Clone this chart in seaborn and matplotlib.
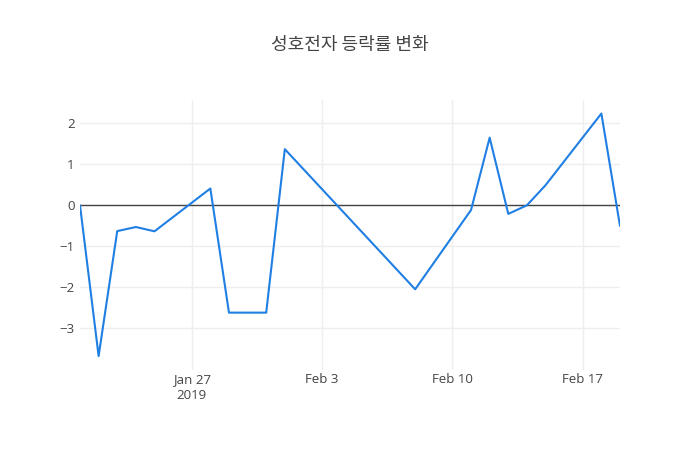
import matplotlib
matplotlib.use("Agg")
import matplotlib.pyplot as plt
import pandas as pd
import seaborn as sns

# daily change (%) by trading day
dates = ["2019-01-21", "2019-01-22", "2019-01-23", "2019-01-24", "2019-01-25",
         "2019-01-28", "2019-01-29", "2019-01-30", "2019-01-31", "2019-02-01",
         "2019-02-08", "2019-02-11", "2019-02-12", "2019-02-13", "2019-02-14",
         "2019-02-15", "2019-02-18", "2019-02-19"]
changes = [0.0, -3.68, -0.63, -0.53, -0.635,
           0.41, -2.62, -2.62, -2.62, 1.37,
           -2.05, -0.115, 1.65, -0.21, 0.0,
           0.49, 2.24, -0.505]
tick_dates = ["2019-01-27", "2019-02-03", "2019-02-10", "2019-02-17"]
tick_labels = ["Jan 27\n2019", "Feb 3", "Feb 10", "Feb 17"]
title = "성호전자 등락률 변화"

df = pd.DataFrame({"date": pd.to_datetime(dates), "change": changes})

sns.set_theme(style="white")
plt.rcParams["font.family"] = ["Open Sans", "Noto Sans CJK KR", "DejaVu Sans"]

fig = plt.figure(figsize=(7, 4.5), dpi=100)
ax = fig.add_axes([80 / 700, 80 / 450, 540 / 700, 270 / 450])

sns.lineplot(data=df, x="date", y="change", ax=ax, color="#1f7fe3", linewidth=1.5)

ax.set_xlim(df["date"].min(), df["date"].max())
ax.set_ylim(-4.02, 2.57)
ax.set_xticks(pd.to_datetime(tick_dates))
ax.set_xticklabels(tick_labels, linespacing=1.3)
ax.set_yticks([-3, -2, -1, 0, 1, 2])
ax.set_yticklabels(["\u22123", "\u22122", "\u22121", "0", "1", "2"])
ax.grid(True, color="#eeeeee", linewidth=1)
ax.axhline(0, color="#444444", linewidth=1, zorder=1)
ax.set_axisbelow(True)
for s in ax.spines.values():
    s.set_visible(False)
ax.tick_params(axis="both", length=0, labelsize=9.5, labelcolor="#444444")
ax.tick_params(axis="x", pad=2)
ax.tick_params(axis="y", pad=4)
ax.set_xlabel("")
ax.set_ylabel("")

fig.text(0.5, 1 - 45 / 450, title, ha="center", va="center", fontsize=13,
         color="#444444", family=["Noto Sans CJK KR", "DejaVu Sans"])

fig.savefig("out.png", dpi=100)
